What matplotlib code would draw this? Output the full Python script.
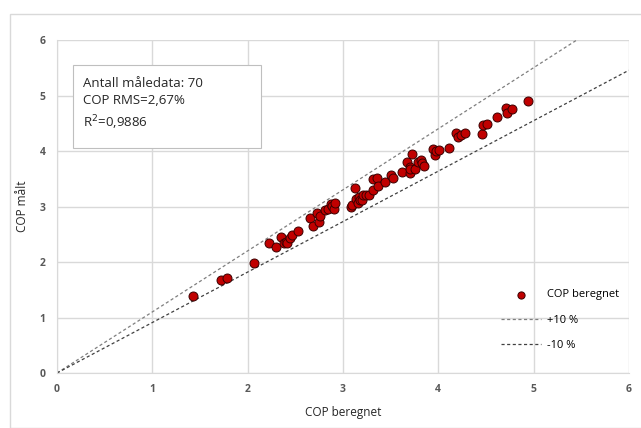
import numpy as np
import matplotlib
matplotlib.use('Agg')
import matplotlib.pyplot as plt
from matplotlib.patches import Rectangle

plt.rcParams['font.family'] = ['Open Sans', 'DejaVu Sans']

# COP beregnet (x) og COP målt (y)
cop_beregnet = [1.43, 1.72, 1.78, 2.07, 2.22, 2.30, 2.35, 2.38, 2.40, 2.41,
                2.44, 2.47, 2.53, 2.65, 2.69, 2.73, 2.75, 2.76, 2.81, 2.84,
                2.88, 2.89, 2.91, 2.92, 3.08, 3.10, 3.13, 3.14, 3.16, 3.17,
                3.18, 3.20, 3.21, 3.24, 3.27, 3.32, 3.32, 3.36, 3.37, 3.44,
                3.50, 3.53, 3.62, 3.67, 3.70, 3.70, 3.70, 3.72, 3.76, 3.79,
                3.82, 3.83, 3.85, 3.95, 3.97, 3.98, 4.01, 4.11, 4.19, 4.21,
                4.24, 4.28, 4.46, 4.47, 4.51, 4.62, 4.71, 4.72, 4.77, 4.94]
cop_maalt = [1.39, 1.67, 1.72, 1.99, 2.34, 2.27, 2.45, 2.34, 2.36, 2.34,
             2.44, 2.48, 2.55, 2.80, 2.65, 2.89, 2.72, 2.82, 2.93, 2.96,
             3.04, 3.01, 2.96, 3.07, 3.00, 3.03, 3.34, 3.14, 3.07, 3.17,
             3.12, 3.11, 3.20, 3.20, 3.20, 3.29, 3.50, 3.52, 3.37, 3.45,
             3.56, 3.52, 3.62, 3.80, 3.61, 3.71, 3.67, 3.94, 3.68, 3.80,
             3.83, 3.79, 3.73, 4.03, 3.93, 4.00, 4.01, 4.06, 4.32, 4.25,
             4.28, 4.33, 4.31, 4.46, 4.48, 4.61, 4.78, 4.69, 4.76, 4.90]

line_x = [0, 6]
slope_pluss = 1.1
slope_minus = 1 / 1.1

fig = plt.figure(figsize=(6.41, 4.28), dpi=100)
# Excel chart-area border
fig.patches.append(Rectangle((10 / 641, 0), 1, 1 - 14 / 428, transform=fig.transFigure,
                             fill=False, edgecolor='#d9d9d9', linewidth=1))
ax = fig.add_axes([0.0889, 0.1285, 0.8921, 0.778])

ax.plot(line_x, [v * slope_pluss for v in line_x], ls=(0, (2.5, 2)), color='#7f7f7f',
        lw=0.9, label='+10 %', zorder=2)
ax.plot(line_x, [v * slope_minus for v in line_x], ls=(0, (2.5, 2)), color='#404040',
        lw=0.9, label='-10 %', zorder=2)
ax.scatter(cop_beregnet, cop_maalt, s=42, color='#c00000', edgecolors='#3a0000',
           linewidths=0.7, label='COP beregnet', zorder=3)

ax.set_xlim(0, 6)
ax.set_ylim(0, 6)
ax.set_xticks(range(7))
ax.set_yticks(range(7))
ax.grid(True, color='#d9d9d9', lw=1)
ax.set_axisbelow(True)
for s in ['top', 'right']:
    ax.spines[s].set_visible(False)
for s in ['left', 'bottom']:
    ax.spines[s].set_color('#d9d9d9')
ax.tick_params(length=0, labelsize=7.5, labelcolor='#595959', pad=8)
for lbl in ax.get_xticklabels() + ax.get_yticklabels():
    lbl.set_fontweight('bold')
ax.set_xlabel('COP beregnet', fontsize=8.5, color='#262626', labelpad=8)
ax.set_ylabel('COP målt', fontsize=8.5, color='#262626', labelpad=8)

# info box
ax.add_patch(Rectangle((0.028, 0.676), 0.329, 0.249, transform=ax.transAxes,
                       fc='white', ec='#bfbfbf', lw=0.8, zorder=4))
ax.text(0.045, 0.89,
        'Antall måledata: 70\nCOP RMS=2,67%\nR$^2$=0,9886',
        transform=ax.transAxes, fontsize=9.5, color='#262626', va='top',
        linespacing=1.45, zorder=5)

handles, labels = ax.get_legend_handles_labels()
order = [2, 0, 1]
ax.legend([handles[i] for i in order], [labels[i] for i in order],
          loc='lower right', bbox_to_anchor=(1.0, 0.035), frameon=False,
          fontsize=8, handlelength=3.6, handletextpad=0.5, labelspacing=1.3,
          markerscale=0.8)

fig.savefig('out.png', dpi=100)
